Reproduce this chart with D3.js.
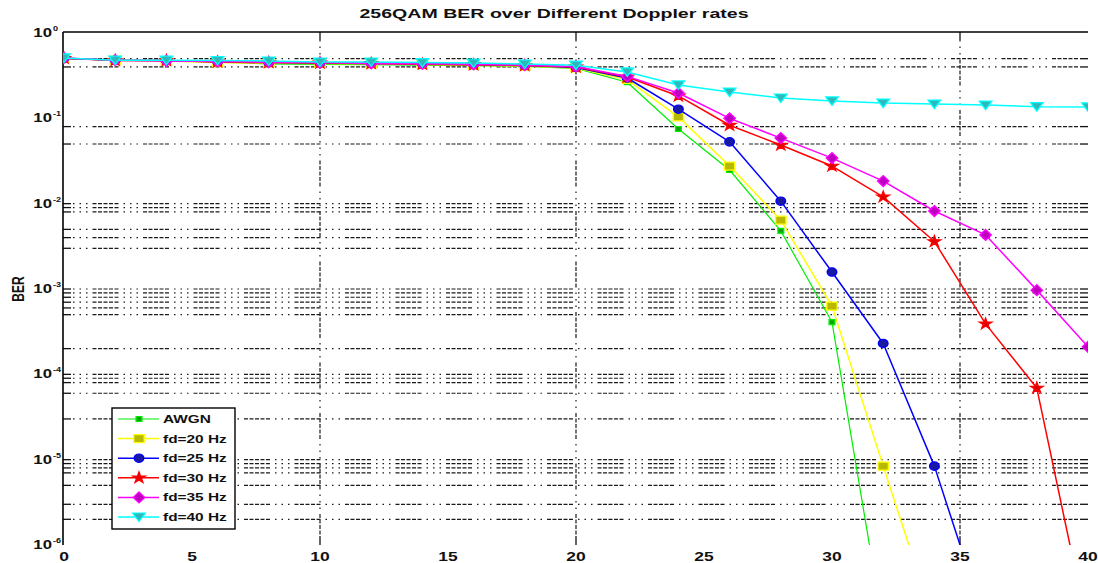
<!DOCTYPE html>
<html>
<head>
<meta charset="utf-8">
<script src="https://cdn.jsdelivr.net/npm/d3@7/dist/d3.min.js"></script>
<style>
  html, body { margin: 0; padding: 0; background: #fff; }
  svg { display: block; }
  text { font-family: "Liberation Sans", Arial, sans-serif; font-weight: bold; fill: #111; }
</style>
</head>
<body>
<svg id="chart" width="1098" height="563"></svg>
<script>
// SNR points (dB)
const snr = [0, 2, 4, 6, 8, 10, 12, 14, 16, 18, 20, 22, 24, 26, 28, 30, 32, 34, 36, 38, 40];

// Bit error rates per channel condition (null = no errors counted)
const berAWGN = [0.505, 0.48, 0.47, 0.455, 0.435, 0.43, 0.425, 0.42, 0.415, 0.405, 0.385, 0.265, 0.075, 0.0248, 0.0048, 0.00041, 1.1e-7, null, null, null, null];
const berFd20 = [0.505, 0.48, 0.47, 0.45, 0.445, 0.44, 0.435, 0.43, 0.42, 0.41, 0.39, 0.285, 0.104, 0.0276, 0.0064, 0.00063, 8.4e-6, 1.2e-7, null, null, null];
const berFd25 = [0.505, 0.48, 0.475, 0.46, 0.45, 0.445, 0.44, 0.435, 0.425, 0.415, 0.395, 0.297, 0.128, 0.053, 0.0107, 0.00158, 0.00023, 8.4e-6, 1.2e-7, null, null];
const berFd30 = [0.505, 0.475, 0.475, 0.457, 0.45, 0.445, 0.44, 0.43, 0.425, 0.415, 0.40, 0.305, 0.183, 0.083, 0.0486, 0.0276, 0.012, 0.0036, 0.00039, 6.9e-5, 1.0e-7];
const berFd35 = [0.51, 0.48, 0.47, 0.465, 0.455, 0.45, 0.44, 0.435, 0.43, 0.42, 0.405, 0.31, 0.198, 0.10, 0.0587, 0.0342, 0.0184, 0.0082, 0.0043, 0.00097, 0.00021];
const berFd40 = [0.51, 0.48, 0.48, 0.476, 0.47, 0.457, 0.457, 0.45, 0.445, 0.433, 0.42, 0.35, 0.246, 0.203, 0.173, 0.16, 0.151, 0.147, 0.143, 0.137, 0.136];

const seriesNames = ["AWGN", "fd=20 Hz", "fd=25 Hz", "fd=30 Hz", "fd=35 Hz", "fd=40 Hz"];
const seriesValues = [berAWGN, berFd20, berFd25, berFd30, berFd35, berFd40];

// Axis ticks and grid positions
const xTicks = [0, 5, 10, 15, 20, 25, 30, 35, 40];
const xGrid = [10, 20, 35];
const yTickExps = [0, -1, -2, -3, -4, -5, -6];
const yGrid = [0.5, 0.4, 0.08, 0.05,
  1e-2, 9e-3, 8e-3, 5e-3, 4e-3, 3e-3,
  1e-3, 9e-4, 8e-4, 7e-4, 6e-4, 5e-4, 2e-4,
  1e-4, 9e-5, 8e-5, 6e-5, 3e-5,
  1e-5, 9e-6, 8e-6, 7e-6, 5e-6, 3e-6, 2e-6];

const title = "256QAM BER over Different Doppler rates";
const yLabel = "BER";

// ---- layout / styling ----
const SX = 1.4; // horizontal glyph stretch
const plot = { left: 63, right: 1088, top: 32, bottom: 545 };
const styles = [
  { color: "#00ee00", fill: "#10a010", marker: "smallsquare", width: 1.2 },
  { color: "#ffff00", fill: "#b8b800", marker: "square", width: 1.5 },
  { color: "#0000ff", fill: "#1a1aa0", marker: "circle", width: 1.5 },
  { color: "#ff0000", fill: "#e00000", marker: "star", width: 1.5 },
  { color: "#ff00ff", fill: "#c000c0", marker: "diamond", width: 1.5 },
  { color: "#00ffff", fill: "#30b8b8", marker: "triangle", width: 1.5 }
];
const gridDash = "1.5,5,1.5,5,1.5,5,4,1.5,4,1.5,4,1.5,4,1.5,4,5";

const svg = d3.select("#chart");
const x = d3.scaleLinear().domain([0, 40]).range([64, 1088]);
const y = d3.scaleLog().domain([1e-6, 1]).range([plot.bottom, plot.top + 1]);

function markerPath(kind) {
  switch (kind) {
    case "smallsquare": return "M-2.5,-2.5H2.5V2.5H-2.5Z";
    case "square": return "M-4.5,-4H4.5V4H-4.5Z";
    case "circle": return d3.symbol(d3.symbolCircle, 55)();
    case "star": return d3.symbol(d3.symbolStar, 38)();
    case "diamond": return "M0,-5.5L5,0L0,5.5L-5,0Z";
    case "triangle": return "M-5.5,-4L5.5,-4L0,4.5Z";
  }
}

function stretched(sel, px, py, sx = SX) {
  return sel.attr("transform", `translate(${px},${py}) scale(${sx},1)`);
}

// clip for plotted data
svg.append("defs").append("clipPath").attr("id", "plotClip")
  .append("rect")
  .attr("x", plot.left).attr("y", plot.top)
  .attr("width", plot.right - plot.left).attr("height", plot.bottom - plot.top);

// ---- grid ----
const grid = svg.append("g").attr("class", "grid");
grid.selectAll("line.h").data(yGrid).join("line")
  .attr("class", "h")
  .attr("x1", plot.left + 10).attr("x2", plot.right - 8)
  .attr("y1", d => y(d)).attr("y2", d => y(d))
  .attr("stroke", "#1a1a1a").attr("stroke-width", 1.2)
  .attr("stroke-dasharray", gridDash);
// inward ticks at both ends of each grid line
grid.selectAll("line.hl").data(yGrid).join("line")
  .attr("x1", plot.left).attr("x2", plot.left + 8)
  .attr("y1", d => y(d)).attr("y2", d => y(d))
  .attr("stroke", "#111").attr("stroke-width", 1.3);
grid.selectAll("line.hr").data(yGrid).join("line")
  .attr("x1", plot.right - 8).attr("x2", plot.right)
  .attr("y1", d => y(d)).attr("y2", d => y(d))
  .attr("stroke", "#111").attr("stroke-width", 1.3);

grid.selectAll("line.v").data(xGrid).join("line")
  .attr("x1", d => x(d)).attr("x2", d => x(d))
  .attr("y1", plot.top + 8).attr("y2", plot.bottom - 8)
  .attr("stroke", "#1a1a1a").attr("stroke-width", 1.2)
  .attr("stroke-dasharray", gridDash);
grid.selectAll("line.vt").data(xGrid).join("line")
  .attr("x1", d => x(d)).attr("x2", d => x(d))
  .attr("y1", plot.top).attr("y2", plot.top + 8)
  .attr("stroke", "#111").attr("stroke-width", 1.3);
grid.selectAll("line.vb").data(xGrid).join("line")
  .attr("x1", d => x(d)).attr("x2", d => x(d))
  .attr("y1", plot.bottom - 8).attr("y2", plot.bottom)
  .attr("stroke", "#111").attr("stroke-width", 1.3);

// ---- axes frame (left and top) ----
svg.append("line")
  .attr("x1", plot.left).attr("x2", plot.left)
  .attr("y1", plot.top).attr("y2", plot.bottom)
  .attr("stroke", "#000").attr("stroke-width", 1.6);
svg.append("line")
  .attr("x1", plot.left).attr("x2", plot.right)
  .attr("y1", plot.top).attr("y2", plot.top)
  .attr("stroke", "#000").attr("stroke-width", 1.6);

// ---- tick labels ----
const xl = svg.append("g");
xTicks.forEach(v => {
  stretched(xl.append("text"), x(v), 561)
    .attr("text-anchor", "middle")
    .attr("font-size", 12.5)
    .text(v);
});

const yl = svg.append("g");
yTickExps.forEach(e => {
  const g = yl.append("g");
  const yy = y(Math.pow(10, e));
  stretched(g.append("text"), 52, yy + 4)
    .attr("text-anchor", "end")
    .attr("font-size", 12)
    .text("10");
  stretched(g.append("text"), 53, yy - 2)
    .attr("text-anchor", "start")
    .attr("font-size", 6.5)
    .attr("font-weight", "normal")
    .text(e === 0 ? "0" : String(e));
});

// y axis label
svg.append("text")
  .attr("transform", `translate(18,289) scale(${SX},1) rotate(-90)`)
  .attr("text-anchor", "middle")
  .attr("dominant-baseline", "central")
  .attr("font-size", 12)
  .text(yLabel);

// title
stretched(svg.append("text"), 554, 18, 1.45)
  .attr("text-anchor", "middle")
  .attr("font-size", 13.5)
  .text(title);

// ---- data series ----
const dataLayer = svg.append("g").attr("clip-path", "url(#plotClip)");
const line = d3.line()
  .defined(d => d.v !== null)
  .x(d => x(d.s))
  .y(d => y(d.v));

seriesValues.forEach((vals, i) => {
  const st = styles[i];
  const pts = snr.map((s, j) => ({ s, v: vals[j] }));
  dataLayer.append("path")
    .datum(pts)
    .attr("fill", "none")
    .attr("stroke", st.color)
    .attr("stroke-width", st.width)
    .attr("stroke-linejoin", "round")
    .attr("d", line);
  dataLayer.selectAll(null)
    .data(pts.filter(d => d.v !== null))
    .join("path")
    .attr("transform", d => `translate(${x(d.s)},${y(d.v)}) scale(1.15,1)`)
    .attr("d", markerPath(st.marker))
    .attr("fill", st.fill)
    .attr("stroke", st.color)
    .attr("stroke-width", 1.2);
});

// ---- legend ----
const lg = svg.append("g");
lg.append("rect")
  .attr("x", 112).attr("y", 408)
  .attr("width", 123).attr("height", 121)
  .attr("fill", "#fff")
  .attr("stroke", "#000").attr("stroke-width", 1.4);
seriesNames.forEach((name, i) => {
  const st = styles[i];
  const ry = 419 + i * 19.6;
  lg.append("line")
    .attr("x1", 118).attr("x2", 159)
    .attr("y1", ry).attr("y2", ry)
    .attr("stroke", st.color).attr("stroke-width", st.width);
  lg.append("path")
    .attr("transform", `translate(139,${ry}) scale(1.15,1)`)
    .attr("d", markerPath(st.marker))
    .attr("fill", st.fill)
    .attr("stroke", st.color)
    .attr("stroke-width", 1.2);
  stretched(lg.append("text"), 163, ry + 4)
    .attr("font-size", 11)
    .text(name);
});
</script>
</body>
</html>
